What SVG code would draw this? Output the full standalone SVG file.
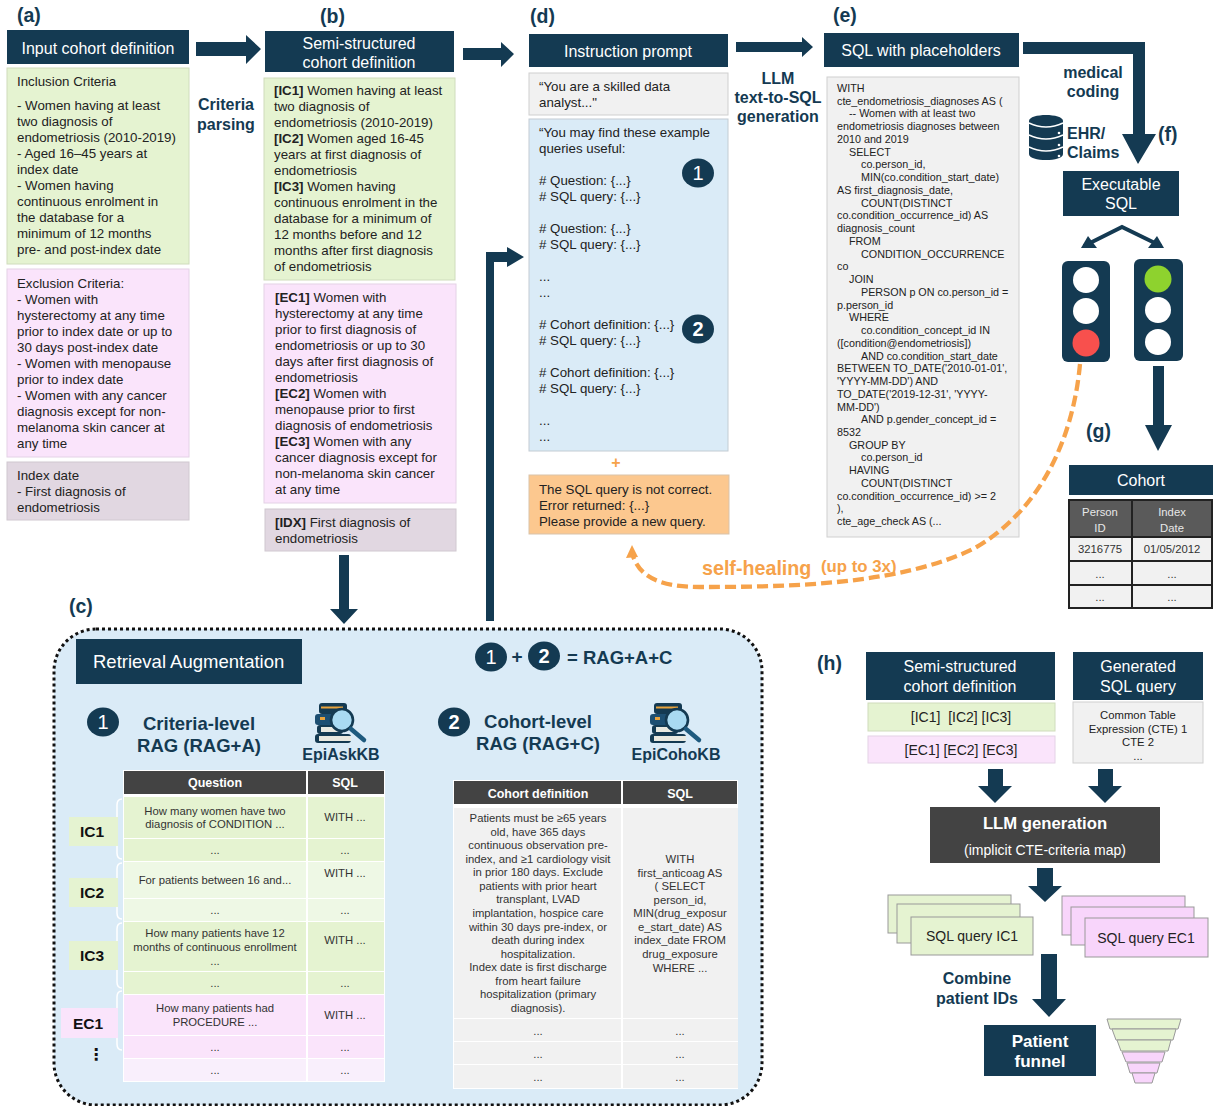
<svg xmlns="http://www.w3.org/2000/svg" xmlns:xlink="http://www.w3.org/1999/xlink" width="1214" height="1106" viewBox="0 0 1214 1106">
<style>
text{font-family:"Liberation Sans",Arial,sans-serif;fill:#222}
.h{fill:#143a52}
.ht{fill:#fff;font-size:16px;text-anchor:middle}
.l{fill:#143a52;font-weight:700;font-size:19.5px}
.b{fill:#143a52;font-weight:700;font-size:16px;text-anchor:middle}
.t{font-size:13.3px}
.s{font-size:10.75px}
.c{text-anchor:middle}
.g{fill:#e5f3d1;stroke:#cfdcbc;stroke-width:1}
.p{fill:#fae4fb;stroke:#e4d2e6;stroke-width:1}
.m{fill:#e1d7e1;stroke:#d0c8d0;stroke-width:1}
.y{fill:#f1f1f1;stroke:#cfcfcf;stroke-width:1}
.bl{fill:#daebf7;stroke:#c3ccd3;stroke-width:1}
.ar{fill:#143a52}
.dk{fill:#434343}
.num{fill:#143a52}
.nt{fill:#fff;font-size:20px;text-anchor:middle}
.tw{fill:#fff;font-weight:700;font-size:12.5px;text-anchor:middle}
.q{font-size:11.3px;text-anchor:middle;fill:#333}
.brace{fill:none;stroke:#fff;stroke-width:1.5}
.lg{font-weight:700;font-size:15.5px;text-anchor:middle;fill:#111}
.fg{fill:#e5f3d1;stroke:#999;stroke-width:1}
.fp{fill:#f8d5fb;stroke:#999;stroke-width:1}
.o{fill:#f6a24a;font-weight:700}
</style>
<defs>
<g id="bookIcon">
<rect x="5" y="0" width="28" height="11" rx="3" fill="#143a52"/>
<rect x="7" y="3.5" width="22" height="2" fill="#e8a33d"/>
<rect x="1" y="11" width="24" height="11" rx="3" fill="#1d4f72"/>
<rect x="6" y="14" width="5" height="3" fill="#e8a33d"/>
<rect x="3" y="22" width="26" height="9" rx="3" fill="#143a52"/>
<rect x="7" y="24" width="22" height="5" fill="#e9e9e0"/>
<rect x="1" y="31" width="36" height="9" rx="3" fill="#143a52"/>
<rect x="5" y="33" width="32" height="5" fill="#e9e9e0"/>
<circle cx="28" cy="17" r="11" fill="#a9daf2" stroke="#143a52" stroke-width="2.6"/>
<line x1="37" y1="26" x2="50" y2="37" stroke="#1e5a7e" stroke-width="4.5" stroke-linecap="round"/>
</g>
</defs>
<rect width="1214" height="1106" fill="#fff"/>

<g id="labels">
<text class="l" x="17" y="22">(a)</text>
<text class="l" x="320" y="23">(b)</text>
<text class="l" x="530" y="23">(d)</text>
<text class="l" x="833" y="22">(e)</text>
<text class="l" x="1158" y="141">(f)</text>
<text class="l" x="1086" y="438">(g)</text>
<text class="l" x="69" y="613">(c)</text>
<text class="l" x="817" y="670">(h)</text>
<text class="b" x="226" y="110">Criteria</text>
<text class="b" x="226" y="130">parsing</text>
<text class="b" x="778" y="84">LLM</text>
<text class="b" x="778" y="103">text-to-SQL</text>
<text class="b" x="778" y="122">generation</text>
<text class="b" x="1093" y="78">medical</text>
<text class="b" x="1093" y="97">coding</text>
<text class="b" x="977" y="984">Combine</text>
<text class="b" x="977" y="1004">patient IDs</text>
</g>

<g id="node-a-header"><rect class="h" x="7" y="30" width="182" height="34"/><text class="ht" x="98" y="54">Input cohort definition</text></g>
<g id="node-a-inclusion"><rect class="g" x="7" y="68" width="182" height="196"/>
<text class="t" x="17" y="86">Inclusion Criteria</text>
<text class="t"><tspan x="17" y="110">- Women having at least</tspan><tspan x="17" dy="16">two diagnosis of</tspan><tspan x="17" dy="16">endometriosis (2010-2019)</tspan><tspan x="17" dy="16">- Aged 16–45 years at</tspan><tspan x="17" dy="16">index date</tspan><tspan x="17" dy="16">- Women having</tspan><tspan x="17" dy="16">continuous enrolment in</tspan><tspan x="17" dy="16">the database for a</tspan><tspan x="17" dy="16">minimum of 12 months</tspan><tspan x="17" dy="16">pre- and post-index date</tspan></text></g>
<g id="node-a-exclusion"><rect class="p" x="7" y="269" width="182" height="188"/>
<text class="t"><tspan x="17" y="288">Exclusion Criteria:</tspan><tspan x="17" dy="16">- Women with</tspan><tspan x="17" dy="16">hysterectomy at any time</tspan><tspan x="17" dy="16">prior to index date or up to</tspan><tspan x="17" dy="16">30 days post-index date</tspan><tspan x="17" dy="16">- Women with menopause</tspan><tspan x="17" dy="16">prior to index date</tspan><tspan x="17" dy="16">- Women with any cancer</tspan><tspan x="17" dy="16">diagnosis except for non-</tspan><tspan x="17" dy="16">melanoma skin cancer at</tspan><tspan x="17" dy="16">any time</tspan></text></g>
<g id="node-a-index"><rect class="m" x="7" y="462" width="182" height="58"/>
<text class="t"><tspan x="17" y="480">Index date</tspan><tspan x="17" dy="16">- First diagnosis of</tspan><tspan x="17" dy="16">endometriosis</tspan></text></g>

<g id="node-b-header"><rect class="h" x="265" y="31" width="189" height="41"/><text class="ht" x="359" y="49">Semi-structured</text><text class="ht" x="359" y="68">cohort definition</text></g>
<g id="node-b-ic"><rect class="g" x="264" y="78" width="191" height="202"/>
<text class="t"><tspan x="274" y="95" font-weight="700">[IC1]</tspan><tspan> Women having at least</tspan><tspan x="274" dy="16">two diagnosis of</tspan><tspan x="274" dy="16">endometriosis (2010-2019)</tspan><tspan x="274" dy="16" font-weight="700">[IC2]</tspan><tspan> Women aged 16-45</tspan><tspan x="274" dy="16">years at first diagnosis of</tspan><tspan x="274" dy="16">endometriosis</tspan><tspan x="274" dy="16" font-weight="700">[IC3]</tspan><tspan> Women having</tspan><tspan x="274" dy="16">continuous enrolment in the</tspan><tspan x="274" dy="16">database for a minimum of</tspan><tspan x="274" dy="16">12 months before and 12</tspan><tspan x="274" dy="16">months after first diagnosis</tspan><tspan x="274" dy="16">of endometriosis</tspan></text></g>
<g id="node-b-ec"><rect class="p" x="264" y="284" width="192" height="219"/>
<text class="t"><tspan x="275" y="302" font-weight="700">[EC1]</tspan><tspan> Women with</tspan><tspan x="275" dy="16">hysterectomy at any time</tspan><tspan x="275" dy="16">prior to first diagnosis of</tspan><tspan x="275" dy="16">endometriosis or up to 30</tspan><tspan x="275" dy="16">days after first diagnosis of</tspan><tspan x="275" dy="16">endometriosis</tspan><tspan x="275" dy="16" font-weight="700">[EC2]</tspan><tspan> Women with</tspan><tspan x="275" dy="16">menopause prior to first</tspan><tspan x="275" dy="16">diagnosis of endometriosis</tspan><tspan x="275" dy="16" font-weight="700">[EC3]</tspan><tspan> Women with any</tspan><tspan x="275" dy="16">cancer diagnosis except for</tspan><tspan x="275" dy="16">non-melanoma skin cancer</tspan><tspan x="275" dy="16">at any time</tspan></text></g>
<g id="node-b-idx"><rect class="m" x="265" y="509" width="191" height="42"/>
<text class="t"><tspan x="275" y="527" font-weight="700">[IDX]</tspan><tspan> First diagnosis of</tspan><tspan x="275" dy="16">endometriosis</tspan></text></g>

<g id="node-d-header"><rect class="h" x="529" y="34" width="199" height="33"/><text class="ht" x="628" y="57">Instruction prompt</text></g>
<g id="node-d-role"><rect class="y" x="529" y="73" width="199" height="42"/>
<text class="t"><tspan x="539" y="91">“You are a skilled data</tspan><tspan x="539" dy="16">analyst..."</tspan></text></g>
<g id="node-d-examples"><rect class="bl" x="529" y="119" width="199" height="332"/>
<text class="t"><tspan x="539" y="137">“You may find these example</tspan><tspan x="539" dy="16">queries useful:</tspan><tspan x="539" dy="32"># Question: {...}</tspan><tspan x="539" dy="16"># SQL query: {...}</tspan><tspan x="539" dy="32"># Question: {...}</tspan><tspan x="539" dy="16"># SQL query: {...}</tspan><tspan x="539" dy="32">...</tspan><tspan x="539" dy="16">...</tspan><tspan x="539" dy="32"># Cohort definition: {...}</tspan><tspan x="539" dy="16"># SQL query: {...}</tspan><tspan x="539" dy="32"># Cohort definition: {...}</tspan><tspan x="539" dy="16"># SQL query: {...}</tspan><tspan x="539" dy="32">...</tspan><tspan x="539" dy="16">...</tspan></text>
<ellipse class="num" cx="698" cy="173" rx="16" ry="14.5"/><text class="nt" x="698" y="180">1</text>
<ellipse class="num" cx="698" cy="329" rx="16" ry="14.5"/><text class="nt" x="698" y="336" font-weight="700">2</text></g>
<g id="node-d-plus"><text x="616" y="468" class="o c" font-size="16">+</text></g>
<g id="node-d-error"><rect x="529" y="475" width="200" height="59" fill="#fcc88f" stroke="#d9c3aa"/>
<text class="t"><tspan x="539" y="494">The SQL query is not correct.</tspan><tspan x="539" dy="16">Error returned: {...}</tspan><tspan x="539" dy="16">Please provide a new query.</tspan></text></g>

<g id="node-e-header"><rect class="h" x="824" y="33" width="195" height="34"/><text class="ht" x="921" y="56">SQL with placeholders</text></g>
<g id="node-e-sql"><rect class="y" x="827" y="77" width="192" height="460"/>
<text class="s"><tspan x="837" y="92">WITH</tspan><tspan x="837" dy="12.74">cte_endometriosis_diagnoses AS (</tspan><tspan x="849" dy="12.74">-- Women with at least two</tspan><tspan x="837" dy="12.74">endometriosis diagnoses between</tspan><tspan x="837" dy="12.74">2010 and 2019</tspan><tspan x="849" dy="12.74">SELECT</tspan><tspan x="861" dy="12.74">co.person_id,</tspan><tspan x="861" dy="12.74">MIN(co.condition_start_date)</tspan><tspan x="837" dy="12.74">AS first_diagnosis_date,</tspan><tspan x="861" dy="12.74">COUNT(DISTINCT</tspan><tspan x="837" dy="12.74">co.condition_occurrence_id) AS</tspan><tspan x="837" dy="12.74">diagnosis_count</tspan><tspan x="849" dy="12.74">FROM</tspan><tspan x="861" dy="12.74">CONDITION_OCCURRENCE</tspan><tspan x="837" dy="12.74">co</tspan><tspan x="849" dy="12.74">JOIN</tspan><tspan x="861" dy="12.74">PERSON p ON co.person_id =</tspan><tspan x="837" dy="12.74">p.person_id</tspan><tspan x="849" dy="12.74">WHERE</tspan><tspan x="861" dy="12.74">co.condition_concept_id IN</tspan><tspan x="837" dy="12.74">([condition@endometriosis])</tspan><tspan x="861" dy="12.74">AND co.condition_start_date</tspan><tspan x="837" dy="12.74">BETWEEN TO_DATE('2010-01-01',</tspan><tspan x="837" dy="12.74">'YYYY-MM-DD') AND</tspan><tspan x="837" dy="12.74">TO_DATE('2019-12-31', 'YYYY-</tspan><tspan x="837" dy="12.74">MM-DD')</tspan><tspan x="861" dy="12.74">AND p.gender_concept_id =</tspan><tspan x="837" dy="12.74">8532</tspan><tspan x="849" dy="12.74">GROUP BY</tspan><tspan x="861" dy="12.74">co.person_id</tspan><tspan x="849" dy="12.74">HAVING</tspan><tspan x="861" dy="12.74">COUNT(DISTINCT</tspan><tspan x="837" dy="12.74">co.condition_occurrence_id) &gt;= 2</tspan><tspan x="837" dy="12.74">),</tspan><tspan x="837" dy="12.74">cte_age_check AS (...</tspan></text></g>

<g id="node-ehr">
<path d="M1029 121c0-8 34-8 34 0v33c0 8-34 8-34 0z" fill="#143a52"/>
<path d="M1029 123q17 8 34 0M1029 135q17 8 34 0M1029 147q17 8 34 0" fill="none" stroke="#fff" stroke-width="1.4"/>
<circle cx="1059" cy="133" r="1.3" fill="#fff"/><circle cx="1059" cy="145" r="1.3" fill="#fff"/><circle cx="1059" cy="156" r="1.3" fill="#fff"/>
<text class="b" x="1067" y="139" style="text-anchor:start">EHR/</text><text class="b" x="1067" y="158" style="text-anchor:start">Claims</text></g>
<g id="node-f-exec"><rect class="h" x="1063" y="171" width="116" height="45"/><text class="ht" x="1121" y="190">Executable</text><text class="ht" x="1121" y="209">SQL</text></g>
<g id="node-f-light-red"><rect class="h" x="1062" y="261" width="48" height="101" rx="6"/><circle cx="1086" cy="280" r="13" fill="#fff"/><circle cx="1086" cy="311" r="13" fill="#fff"/><circle cx="1086" cy="343" r="13.5" fill="#f8504d"/></g>
<g id="node-f-light-green"><rect class="h" x="1134" y="259" width="49" height="102" rx="6"/><circle cx="1158" cy="279" r="13.5" fill="#8ed22e"/><circle cx="1158" cy="310" r="13" fill="#fff"/><circle cx="1158" cy="342" r="13" fill="#fff"/></g>

<g id="node-g-cohort"><rect class="h" x="1069" y="465" width="144" height="30"/><text class="ht" x="1141" y="486">Cohort</text>
<g stroke="#222" stroke-width="2">
<rect x="1069" y="500" width="63" height="37" fill="#5a5a5a"/><rect x="1132" y="500" width="80" height="37" fill="#5a5a5a"/>
<rect x="1069" y="537" width="63" height="24" fill="#f1f1f1"/><rect x="1132" y="537" width="80" height="24" fill="#f1f1f1"/>
<rect x="1069" y="561" width="63" height="24" fill="#f1f1f1"/><rect x="1132" y="561" width="80" height="24" fill="#f1f1f1"/>
<rect x="1069" y="585" width="63" height="23" fill="#f1f1f1"/><rect x="1132" y="585" width="80" height="23" fill="#f1f1f1"/></g>
<text class="q" x="1100" y="516" style="fill:#e8e8e8">Person</text><text class="q" x="1100" y="532" style="fill:#e8e8e8">ID</text>
<text class="q" x="1172" y="516" style="fill:#e8e8e8">Index</text><text class="q" x="1172" y="532" style="fill:#e8e8e8">Date</text>
<text class="q" x="1100" y="553">3216775</text><text class="q" x="1172" y="553">01/05/2012</text>
<text class="q" x="1100" y="578">...</text><text class="q" x="1172" y="578">...</text>
<text class="q" x="1100" y="601">...</text><text class="q" x="1172" y="601">...</text></g>

<g id="node-c-panel"><rect x="54" y="629" width="708" height="476" rx="42" fill="#daebf7" stroke="#111" stroke-width="3" stroke-dasharray="3 3"/>
<rect class="h" x="76" y="639" width="226" height="45"/><text x="93" y="668" font-size="18.5" style="fill:#fff">Retrieval Augmentation</text>
<ellipse class="num" cx="491" cy="657" rx="16" ry="14.5"/><text class="nt" x="491" y="664">1</text>
<text x="517" y="663" class="c" font-weight="700" font-size="19" style="fill:#143a52">+</text>
<ellipse class="num" cx="544" cy="656" rx="16" ry="14.5"/><text class="nt" x="544" y="663" font-weight="700">2</text>
<text x="567" y="664" font-weight="700" font-size="18.5" style="fill:#143a52">= RAG+A+C</text></g>

<g id="node-c-rag-a">
<ellipse class="num" cx="103" cy="722" rx="16" ry="14.5"/><text class="nt" x="103" y="729">1</text>
<text class="b" x="199" y="730" style="font-size:18.5px">Criteria-level</text><text class="b" x="199" y="752" style="font-size:18.5px">RAG (RAG+A)</text>
<use xlink:href="#bookIcon" href="#bookIcon" x="314" y="703"/>
<text class="b" x="341" y="760">EpiAskKB</text>
<rect x="123" y="770" width="262" height="312" fill="#fff"/>
<rect class="dk" x="124" y="771" width="182" height="23"/><rect class="dk" x="308" y="771" width="76" height="23"/>
<text class="tw" x="215" y="787">Question</text><text class="tw" x="345" y="787">SQL</text>
<g fill="#e5f3d1"><rect x="124" y="797" width="182" height="41"/><rect x="308" y="797" width="76" height="41"/><rect x="124" y="839" width="182" height="22"/><rect x="308" y="839" width="76" height="22"/><rect x="124" y="922" width="182" height="49"/><rect x="308" y="922" width="76" height="49"/><rect x="124" y="972" width="182" height="22"/><rect x="308" y="972" width="76" height="22"/></g>
<g fill="#eef8e5"><rect x="124" y="862" width="182" height="36"/><rect x="308" y="862" width="76" height="36"/><rect x="124" y="899" width="182" height="22"/><rect x="308" y="899" width="76" height="22"/></g>
<g fill="#fae4fb"><rect x="124" y="995" width="182" height="40"/><rect x="308" y="995" width="76" height="40"/><rect x="124" y="1036" width="182" height="22"/><rect x="308" y="1036" width="76" height="22"/></g>
<g fill="#f9effc"><rect x="124" y="1059" width="182" height="22"/><rect x="308" y="1059" width="76" height="22"/></g>
<text class="q" x="215" y="815">How many women have two</text><text class="q" x="215" y="828">diagnosis of CONDITION ...</text><text class="q" x="345" y="821">WITH ...</text>
<text class="q" x="215" y="854">...</text><text class="q" x="345" y="854">...</text>
<text class="q" x="215" y="884">For patients between 16 and...</text><text class="q" x="345" y="877">WITH ...</text>
<text class="q" x="215" y="914">...</text><text class="q" x="345" y="914">...</text>
<text class="q" x="215" y="937">How many patients have 12</text><text class="q" x="215" y="951">months of continuous enrollment</text><text class="q" x="215" y="965">...</text><text class="q" x="345" y="944">WITH ...</text>
<text class="q" x="215" y="987">...</text><text class="q" x="345" y="987">...</text>
<text class="q" x="215" y="1012">How many patients had</text><text class="q" x="215" y="1026">PROCEDURE ...</text><text class="q" x="345" y="1019">WITH ...</text>
<text class="q" x="215" y="1051">...</text><text class="q" x="345" y="1051">...</text>
<text class="q" x="215" y="1074">...</text><text class="q" x="345" y="1074">...</text>
</g>
<g id="node-c-braces">
<path class="brace" d="M122 799c-4 0-5 2-5 6v19c0 4-1 6-4 6c3 0 4 2 4 6v17c0 4 1 6 5 6"/>
<path class="brace" d="M122 863c-4 0-5 2-5 6v17c0 4-1 6-4 6c3 0 4 2 4 6v15c0 4 1 6 5 6"/>
<path class="brace" d="M122 923c-4 0-5 2-5 6v20c0 4-1 6-4 6c3 0 4 2 4 6v21c0 4 1 6 5 6"/>
<path class="brace" d="M122 991c-4 0-5 2-5 6v19c0 4-1 6-4 6c3 0 4 2 4 6v16c0 4 1 6 5 6"/>
</g>
<g id="node-label-ic1"><rect x="69" y="817" width="49" height="29" fill="#e5f3d1"/><text class="lg" x="92" y="837">IC1</text></g>
<g id="node-label-ic2"><rect x="69" y="878" width="49" height="29" fill="#e5f3d1"/><text class="lg" x="92" y="898">IC2</text></g>
<g id="node-label-ic3"><rect x="69" y="941" width="49" height="29" fill="#e5f3d1"/><text class="lg" x="92" y="961">IC3</text></g>
<g id="node-label-ec1"><rect x="61" y="1008" width="57" height="30" fill="#fae4fb"/><text class="lg" x="88" y="1029">EC1</text></g>
<g id="node-label-dots"><text x="96" y="1060" font-weight="700" font-size="16" class="c" style="font-family:'DejaVu Sans',sans-serif;fill:#111">⋮</text></g>

<g id="node-c-rag-c">
<ellipse class="num" cx="454" cy="722" rx="16" ry="14.5"/><text class="nt" x="454" y="729" font-weight="700">2</text>
<text class="b" x="538" y="728" style="font-size:18.5px">Cohort-level</text><text class="b" x="538" y="750" style="font-size:18.5px">RAG (RAG+C)</text>
<use xlink:href="#bookIcon" href="#bookIcon" x="649" y="703"/>
<text class="b" x="676" y="760">EpiCohoKB</text>
<rect x="453" y="780" width="285" height="309" fill="#fff"/>
<rect class="dk" x="454" y="781" width="167" height="23"/><rect class="dk" x="623" y="781" width="114" height="23"/>
<text class="tw" x="538" y="798">Cohort definition</text><text class="tw" x="680" y="798">SQL</text>
<g fill="#f1f1f1"><rect x="454" y="808" width="167" height="210"/><rect x="623" y="808" width="115" height="210"/><rect x="454" y="1019" width="167" height="22"/><rect x="623" y="1019" width="115" height="22"/><rect x="454" y="1042" width="167" height="22"/><rect x="623" y="1042" width="115" height="22"/><rect x="454" y="1065" width="167" height="23"/><rect x="623" y="1065" width="115" height="23"/></g>
<text class="q"><tspan x="538" y="822">Patients must be ≥65 years</tspan><tspan x="538" dy="13.57">old, have 365 days</tspan><tspan x="538" dy="13.57">continuous observation pre-</tspan><tspan x="538" dy="13.57">index, and ≥1 cardiology visit</tspan><tspan x="538" dy="13.57">in prior 180 days. Exclude</tspan><tspan x="538" dy="13.57">patients with prior heart</tspan><tspan x="538" dy="13.57">transplant, LVAD</tspan><tspan x="538" dy="13.57">implantation, hospice care</tspan><tspan x="538" dy="13.57">within 30 days pre-index, or</tspan><tspan x="538" dy="13.57">death during index</tspan><tspan x="538" dy="13.57">hospitalization.</tspan><tspan x="538" dy="13.57">Index date is first discharge</tspan><tspan x="538" dy="13.57">from heart failure</tspan><tspan x="538" dy="13.57">hospitalization (primary</tspan><tspan x="538" dy="13.57">diagnosis).</tspan></text>
<text class="q"><tspan x="680" y="863">WITH</tspan><tspan x="680" dy="13.57">first_anticoag AS</tspan><tspan x="680" dy="13.57">( SELECT</tspan><tspan x="680" dy="13.57">person_id,</tspan><tspan x="680" dy="13.57">MIN(drug_exposur</tspan><tspan x="680" dy="13.57">e_start_date) AS</tspan><tspan x="680" dy="13.57">index_date FROM</tspan><tspan x="680" dy="13.57">drug_exposure</tspan><tspan x="680" dy="13.57">WHERE ...</tspan></text>
<text class="q" x="538" y="1035">...</text><text class="q" x="680" y="1035">...</text>
<text class="q" x="538" y="1058">...</text><text class="q" x="680" y="1058">...</text>
<text class="q" x="538" y="1081">...</text><text class="q" x="680" y="1081">...</text>
</g>

<g id="node-h-semi"><rect class="h" x="866" y="652" width="189" height="48"/><text class="ht" x="960" y="672">Semi-structured</text><text class="ht" x="960" y="692">cohort definition</text></g>
<g id="node-h-gen"><rect class="h" x="1073" y="652" width="130" height="48"/><text class="ht" x="1138" y="672">Generated</text><text class="ht" x="1138" y="692">SQL query</text></g>
<g id="node-h-ic"><rect class="g" x="868" y="703" width="187" height="28"/><text class="c" font-size="14" x="961" y="722">[IC1]&#160; [IC2] [IC3]</text></g>
<g id="node-h-ec"><rect class="p" x="868" y="736" width="187" height="27"/><text class="c" font-size="14" x="961" y="755">[EC1] [EC2] [EC3]</text></g>
<g id="node-h-cte"><rect class="y" x="1073" y="702" width="130" height="61"/>
<text class="q" style="fill:#222"><tspan x="1138" y="719">Common Table</tspan><tspan x="1138" dy="13.5">Expression (CTE) 1</tspan><tspan x="1138" dy="13.5">CTE 2</tspan><tspan x="1138" dy="13.5">...</tspan></text></g>
<g id="node-h-llm"><rect class="dk" x="930" y="807" width="230" height="56"/><text x="1045" y="829" class="c" font-weight="700" font-size="16.7" style="fill:#fff">LLM generation</text><text x="1045" y="855" class="c" font-size="14" style="fill:#fff">(implicit CTE-criteria map)</text></g>
<g id="node-h-sql-ic"><rect class="fg" x="888" y="895" width="123" height="38"/><rect class="fg" x="897" y="904" width="123" height="39"/><rect class="fg" x="911" y="917" width="122" height="38"/><text x="972" y="941" class="c" font-size="14">SQL query IC1</text></g>
<g id="node-h-sql-ec"><rect class="fp" x="1062" y="896" width="123" height="39"/><rect class="fp" x="1071" y="907" width="123" height="38"/><rect class="fp" x="1085" y="918" width="123" height="39"/><text x="1146" y="943" class="c" font-size="14">SQL query EC1</text></g>
<g id="node-h-funnel"><rect class="h" x="984" y="1025" width="112" height="51"/><text x="1040" y="1047" class="c" font-weight="700" font-size="17" style="fill:#fff">Patient</text><text x="1040" y="1067" class="c" font-weight="700" font-size="17" style="fill:#fff">funnel</text></g>
<g id="node-h-funnel-icon">
<polygon class="fg" points="1107,1019 1181,1019 1178,1029 1110,1029"/>
<polygon class="fg" points="1112,1029 1176,1029 1173,1040 1116,1040"/>
<polygon class="fg" points="1117,1040 1171,1040 1168,1051 1121,1051"/>
<polygon class="fp" points="1122,1052 1165,1052 1162,1062 1126,1062"/>
<polygon class="fp" points="1127,1063 1160,1063 1157,1073 1130,1073"/>
<polygon class="fp" points="1132,1073 1155,1073 1152,1083 1135,1083"/>
</g>

<g id="connectors">
<polygon class="ar" points="196,42 246,42 246,35 261,49 246,64 246,56 196,56"/>
<polygon class="ar" points="463,48 501,48 501,42 514,54 501,67 501,60 463,60"/>
<polygon class="ar" points="736,42 802,42 802,37 813,47 802,57 802,52 736,52"/>
<polygon class="ar" points="1023,42 1145,42 1145,134 1156,134 1138,164 1122,134 1133,134 1133,54 1023,54"/>
<path d="M1084 246L1122 227L1161 246" fill="none" stroke="#143a52" stroke-width="4"/>
<polygon class="ar" points="1081,248 1097,248 1088,236"/>
<polygon class="ar" points="1164,248 1148,248 1157,236"/>
<polygon class="ar" points="1153,366 1164,366 1164,425 1172,425 1158,451 1145,425 1153,425"/>
<polygon class="ar" points="486,621 486,252 507,252 507,247 524,257 507,267 507,262 494,262 494,621"/>
<polygon class="ar" points="339,555 349,555 349,609 358,609 344,624 330,609 339,609"/>
<polygon class="ar" points="988,769 1003,769 1003,786 1012,786 995,803 978,786 988,786"/>
<polygon class="ar" points="1098,769 1113,769 1113,786 1122,786 1105,803 1088,786 1098,786"/>
<polygon class="ar" points="1037,868 1053,868 1053,886 1062,886 1045,902 1028,886 1037,886"/>
<polygon class="ar" points="1041,954 1057,954 1057,999 1066,999 1049,1017 1032,999 1041,999"/>
<path d="M1080 364C1073 440 1040 510 975 548C900 585 790 587 700 587C660 587 640 577 633 556" fill="none" stroke="#f6a24a" stroke-width="4.3" stroke-dasharray="11 5"/>
<polygon points="632,545 638,557 626,558" fill="#f6a24a"/>
<text class="o" x="702" y="575" font-size="19.7">self-healing</text>
<text class="o" x="821" y="572" font-size="16.8">(up to 3x)</text>
</g>
</svg>
